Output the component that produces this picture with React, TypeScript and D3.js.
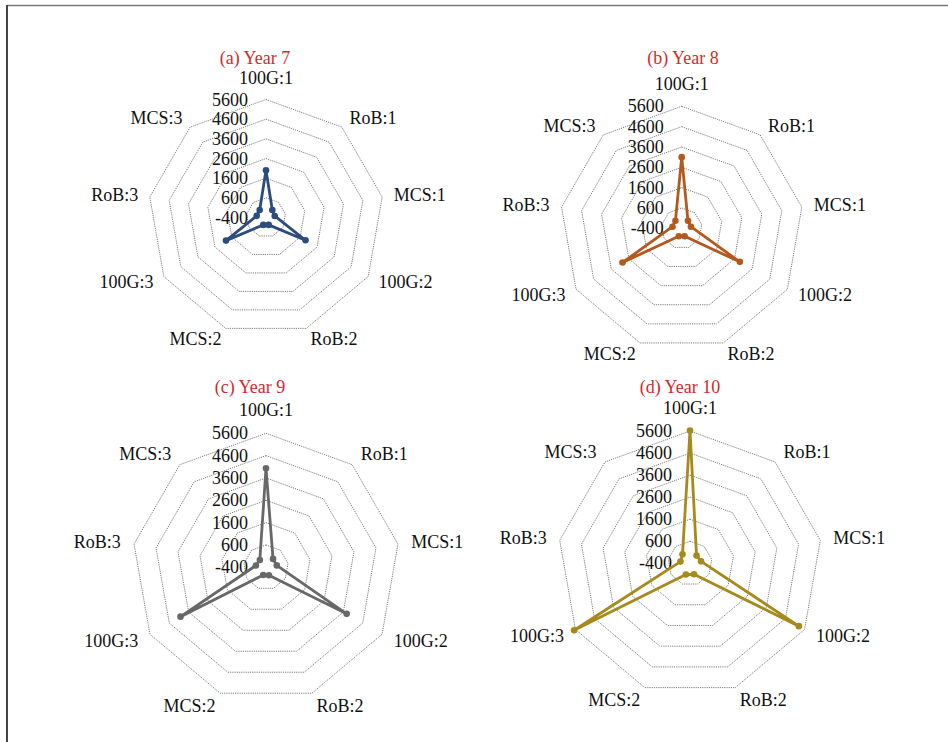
import React from "react";
import * as d3 from "d3";

const categories = ["100G:1", "RoB:1", "MCS:1", "100G:2", "RoB:2", "MCS:2", "100G:3", "RoB:3", "MCS:3"];
const tickValues = [-400, 600, 1600, 2600, 3600, 4600, 5600];
const panelTitles = ["(a) Year 7", "(b) Year 8", "(c) Year 9", "(d) Year 10"];
const year7 = [2000, 100, 50, 1920, 0, 0, 1950, 80, 100];
const year8 = [3100, 80, 60, 2900, 20, 20, 2960, 60, 80];
const year9 = [4030, 90, 90, 3770, -20, -30, 4020, 60, 30];
const year10 = [5620, 60, 110, 5300, 130, 140, 5670, 40, 130];
const seriesList = [year7, year8, year9, year10];
const seriesColors = ["#2d4c7e", "#b3591d", "#686868", "#a68a1c"];

const layout = [
  { cx: 266, cy: 217.5, r: 118, tx: 255, ty: 58 },
  { cx: 681.7, cy: 228.3, r: 122, tx: 683, ty: 58 },
  { cx: 266, cy: 567.3, r: 134, tx: 250, ty: 386.7 },
  { cx: 690, cy: 563.3, r: 132.3, tx: 680, ty: 387.3 },
];

const FONT = "'Liberation Serif', 'Times New Roman', serif";
const FS = 18;

function Radar({ idx }: { idx: number }) {
  const L = layout[idx];
  const values = seriesList[idx];
  const color = seriesColors[idx];
  const rScale = d3.scaleLinear().domain([tickValues[0], tickValues[tickValues.length - 1]]).range([0, L.r]);
  const angle = (i: number) => (i * 2 * Math.PI) / categories.length;
  const ring = d3
    .lineRadial<number>()
    .angle((_, i) => angle(i))
    .radius((d) => rScale(d))
    .curve(d3.curveLinearClosed);
  const dataLine = d3
    .lineRadial<number>()
    .angle((_, i) => angle(i))
    .radius((d) => rScale(d))
    .curve(d3.curveLinearClosed);
  const labelR = L.r * 1.1;
  return (
    <g>
      <text x={L.tx} y={L.ty} fill="#d42a2a" fontSize={FS} fontFamily={FONT} textAnchor="middle" dominantBaseline="central">
        {panelTitles[idx]}
      </text>
      <g transform={`translate(${L.cx},${L.cy})`}>
        {tickValues.slice(1).map((t) => (
          <path
            key={t}
            d={ring(categories.map(() => t)) || ""}
            fill="none"
            stroke="#6f6f6f"
            strokeWidth={0.9}
            strokeDasharray="1.2,1"
          />
        ))}
        {tickValues.map((t) => (
          <text
            key={"t" + t}
            x={-18}
            y={-rScale(t)}
            fontSize={FS}
            fontFamily={FONT}
            textAnchor="end"
            dominantBaseline="central"
            fill="#111"
          >
            {t}
          </text>
        ))}
        {categories.map((c, i) => {
          const a = angle(i);
          const s = Math.sin(a);
          const co = Math.cos(a);
          const anchor = s > 0.01 ? "start" : s < -0.01 ? "end" : "middle";
          const x = labelR * s;
          let y = -labelR * co;
          if (anchor === "middle") y -= FS * 0.55;
          return (
            <text key={c} x={x} y={y} fontSize={FS} fontFamily={FONT} textAnchor={anchor} dominantBaseline="central" fill="#111">
              {c}
            </text>
          );
        })}
        <path d={dataLine(values) || ""} fill="none" stroke={color} strokeWidth={2.8} strokeLinejoin="round" />
        {values.map((v, i) => {
          const a = angle(i);
          const rr = rScale(v);
          return <circle key={i} cx={rr * Math.sin(a)} cy={-rr * Math.cos(a)} r={3.3} fill={color} />;
        })}
      </g>
    </g>
  );
}

export default function App() {
  return (
    <svg width={948} height={742} style={{ position: "absolute", left: 0, top: 0, background: "#fff" }}>
      <rect x={0} y={0} width={948} height={742} fill="#fff" />
      <line x1={7} y1={5.5} x2={948} y2={5.5} stroke="#7a7a7a" strokeWidth={1.5} />
      <line x1={7} y1={5} x2={7} y2={742} stroke="#444" strokeWidth={2} />
      {[0, 1, 2, 3].map((i) => (
        <Radar key={i} idx={i} />
      ))}
    </svg>
  );
}
